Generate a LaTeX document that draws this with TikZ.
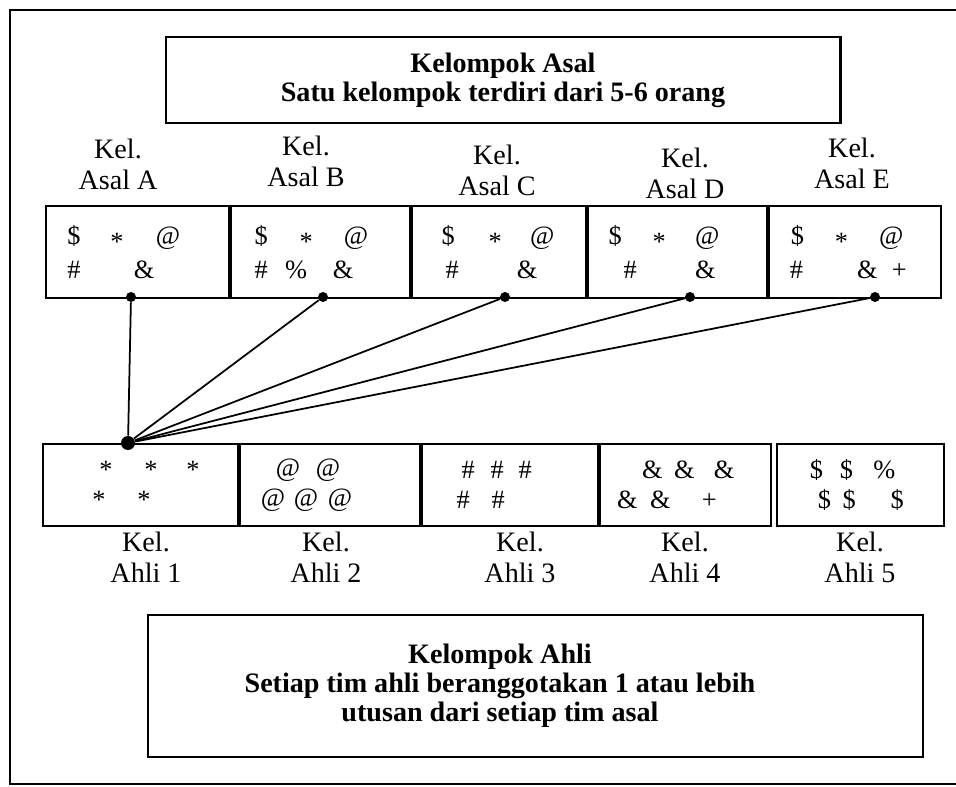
\documentclass[tikz,border=0pt]{standalone}
\usepackage{fontspec}
\setmainfont{Liberation Serif}
\usetikzlibrary{positioning}

% one symbol, centred at a given offset from the middle of the box
\newcommand{\sy}[2]{\rlap{\hspace*{#1}\makebox[0pt]{#2}}}
\newcommand{\strk}{\raisebox{-0.22em}{*}}

\begin{document}
\begin{tikzpicture}[
  x=0.02cm, y=-0.02cm,
  node distance=0pt,
  cell/.style={draw, line width=1.2pt, minimum height=1.84cm, inner sep=0pt,
    align=center, font=\fontsize{15}{19.3}\selectfont},
  ahli/.style={draw, line width=1.2pt, minimum height=1.64cm, inner sep=0pt,
    align=center, font=\fontsize{15}{17}\selectfont},
  kel/.style={align=center, anchor=north, font=\fontsize{16}{17.5}\selectfont},
  title/.style={align=center, font=\fontsize{16}{16.5}\selectfont\bfseries},
  dot/.style={circle, fill, inner sep=0pt, minimum size=0.2cm},
  hub/.style={circle, fill, inner sep=0pt, minimum size=0.28cm},
  link/.style={line width=1pt}
]
\useasboundingbox (0,0) rectangle (956,787);
\draw[line width=1.4pt] (956,10) -- (10,10) -- (10,784) -- (956,784);

% kelompok asal
\node[title, draw, line width=1.2pt, minimum width=13.5cm, minimum height=1.72cm]
  (asalBox) at (503,80) {Kelompok Asal\\Satu kelompok terdiri dari 5-6 orang};

\node[kel] (kelA) at (118,133) {Kel.\\Asal A};
\node[kel] (kelB) at (306,130) {Kel.\\Asal B};
\node[kel] (kelC) at (497,139) {Kel.\\Asal C};
\node[kel] (kelD) at (685,142) {Kel.\\Asal D};
\node[kel] (kelE) at (852,132) {Kel.\\Asal E};

\node[cell, minimum width=3.66cm, anchor=north west] (asalA) at (45,205)
  {\sy{-1.27cm}{\$}\sy{-0.41cm}{\strk}\sy{0.61cm}{@}\\\sy{-1.27cm}{\#}\sy{0.13cm}{\&}};
\node[cell, minimum width=3.58cm, right=of asalA] (asalB)
  {\sy{-1.19cm}{\$}\sy{-0.29cm}{\strk}\sy{0.71cm}{@}\\\sy{-1.19cm}{\#}\sy{-0.49cm}{\%}\sy{0.45cm}{\&}};
\node[cell, minimum width=3.48cm, right=of asalB] (asalC)
  {\sy{-1.02cm}{\$}\sy{-0.08cm}{\strk}\sy{0.86cm}{@}\\\sy{-0.94cm}{\#}\sy{0.56cm}{\&}};
\node[cell, minimum width=3.58cm, right=of asalC] (asalD)
  {\sy{-1.25cm}{\$}\sy{-0.37cm}{\strk}\sy{0.59cm}{@}\\\sy{-0.95cm}{\#}\sy{0.55cm}{\&}};
\node[cell, minimum width=3.44cm, right=of asalD] (asalE)
  {\sy{-1.16cm}{\$}\sy{-0.28cm}{\strk}\sy{0.72cm}{@}\\\sy{-1.18cm}{\#}\sy{0.24cm}{\&}\sy{0.88cm}{+}};

\node[dot] (dA) at (131,297) {};
\node[dot] (dB) at (323,297) {};
\node[dot] (dC) at (505,297) {};
\node[dot] (dD) at (690,297) {};
\node[dot] (dE) at (875,297) {};

% kelompok ahli
\node[ahli, minimum width=3.9cm, anchor=north west] (ahli1) at (42,443)
  {\sy{-0.69cm}{\strk}\sy{0.21cm}{\strk}\sy{1.05cm}{\strk}\\\sy{-0.83cm}{\strk}\sy{0.07cm}{\strk}};
\node[ahli, minimum width=3.6cm, right=of ahli1] (ahli2)
  {\sy{-0.84cm}{@}\sy{-0.04cm}{@}\\\sy{-1.14cm}{@}\sy{-0.48cm}{@}\sy{0.2cm}{@}};
\node[ahli, minimum width=3.52cm, right=of ahli2] (ahli3)
  {\sy{-0.84cm}{\#}\sy{-0.26cm}{\#}\sy{0.3cm}{\#}\\\sy{-0.94cm}{\#}\sy{-0.24cm}{\#}};
\node[ahli, minimum width=3.42cm, right=of ahli3] (ahli4)
  {\sy{-0.67cm}{\&}\sy{-0.03cm}{\&}\sy{0.77cm}{\&}\\\sy{-1.17cm}{\&}\sy{-0.51cm}{\&}\sy{0.47cm}{+}};
\node[ahli, minimum width=3.34cm, right=0.08cm of ahli4] (ahli5)
  {\sy{-0.89cm}{\$}\sy{-0.29cm}{\$}\sy{0.47cm}{\%}\\\sy{-0.73cm}{\$}\sy{-0.23cm}{\$}\sy{0.73cm}{\$}};

\node[hub] (hub) at (128,443) {};
\foreach \d in {dA,dB,dC,dD,dE}
  \draw[link] (hub) -- (\d);

\node[kel] (kel1) at (146,526) {Kel.\\Ahli 1};
\node[kel] (kel2) at (326,526) {Kel.\\Ahli 2};
\node[kel] (kel3) at (520,526) {Kel.\\Ahli 3};
\node[kel] (kel4) at (685,526) {Kel.\\Ahli 4};
\node[kel] (kel5) at (860,526) {Kel.\\Ahli 5};

\node[draw, line width=1.2pt, minimum width=15.5cm, minimum height=2.84cm]
  (ahliBox) at (535.5,686) {};
\node[title] (ahliText) at (500,686)
  {Kelompok Ahli\\Setiap tim ahli beranggotakan 1 atau lebih\\utusan dari setiap tim asal};
\end{tikzpicture}
\end{document}
